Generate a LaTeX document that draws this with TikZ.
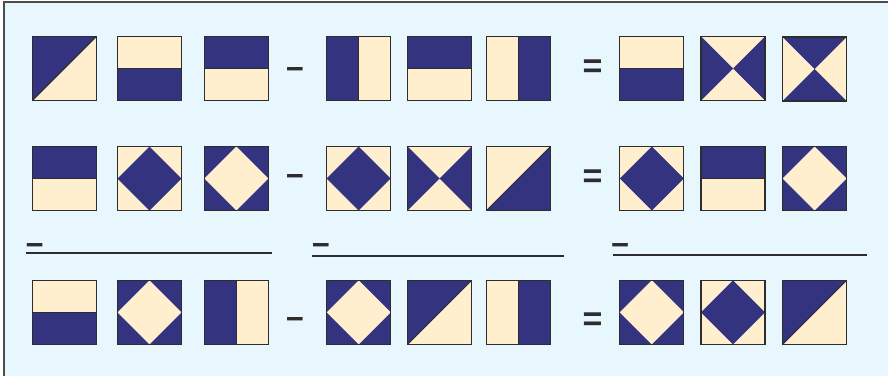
\documentclass[tikz,border=0pt]{standalone}
\usepackage{fontspec}
\setmainfont{Liberation Sans}
\begin{document}
\definecolor{navy}{RGB}{51,51,128}
\definecolor{cream}{RGB}{255,239,207}
\definecolor{bgblue}{RGB}{232,246,254}
\definecolor{edge}{RGB}{45,45,45}
\begin{tikzpicture}[x=1pt,y=-1pt,
  tile/.style={minimum size=64pt, inner sep=0pt, outer sep=0pt, draw=edge, line width=1.3pt, fill=cream},
  splitline/.style={draw=edge, line width=0.8pt},
  hTop/.style={tile, path picture={
     \fill[navy] (path picture bounding box.north west) rectangle (path picture bounding box.east);
     \draw[splitline] (path picture bounding box.west) -- (path picture bounding box.east);}},
  hBot/.style={tile, path picture={
     \fill[navy] (path picture bounding box.west) rectangle (path picture bounding box.south east);
     \draw[splitline] (path picture bounding box.west) -- (path picture bounding box.east);}},
  vLeft/.style={tile, path picture={
     \fill[navy] (path picture bounding box.north west) rectangle (path picture bounding box.south);
     \draw[splitline] (path picture bounding box.north) -- (path picture bounding box.south);}},
  vRight/.style={tile, path picture={
     \fill[navy] (path picture bounding box.north) rectangle (path picture bounding box.south east);
     \draw[splitline] (path picture bounding box.north) -- (path picture bounding box.south);}},
  diagTL/.style={tile, path picture={
     \fill[navy] (path picture bounding box.north west) -- (path picture bounding box.north east) -- (path picture bounding box.south west) -- cycle;
     \draw[splitline] (path picture bounding box.south west) -- (path picture bounding box.north east);}},
  diagBR/.style={tile, path picture={
     \fill[navy] (path picture bounding box.north east) -- (path picture bounding box.south east) -- (path picture bounding box.south west) -- cycle;
     \draw[splitline] (path picture bounding box.south west) -- (path picture bounding box.north east);}},
  xLR/.style={tile, path picture={
     \fill[navy] (path picture bounding box.north west) -- (path picture bounding box.center) -- (path picture bounding box.south west) -- cycle
                 (path picture bounding box.north east) -- (path picture bounding box.center) -- (path picture bounding box.south east) -- cycle;}},
  xTB/.style={tile, path picture={
     \fill[navy] (path picture bounding box.north west) -- (path picture bounding box.center) -- (path picture bounding box.north east) -- cycle
                 (path picture bounding box.south west) -- (path picture bounding box.center) -- (path picture bounding box.south east) -- cycle;}},
  dNavy/.style={tile, path picture={
     \fill[navy] (path picture bounding box.north) -- (path picture bounding box.east) -- (path picture bounding box.south) -- (path picture bounding box.west) -- cycle;}},
  dCream/.style={tile, fill=navy, path picture={
     \fill[cream] (path picture bounding box.north) -- (path picture bounding box.east) -- (path picture bounding box.south) -- (path picture bounding box.west) -- cycle;}},
  minussign/.style={anchor=base, inner sep=0pt, text=edge, font=\bfseries\fontsize{31}{31}\selectfont},
  equalsign/.style={anchor=base, inner sep=0pt, text=edge, font=\bfseries\fontsize{34}{34}\selectfont},
  rule/.style={draw=edge, line width=2pt}
]
\useasboundingbox (0,0) rectangle (888,376);
\fill[bgblue] (4,2) rectangle (888,376);
\draw[black!70, line width=1.2pt] (4,376) -- (4,2) -- (888,2);

% row 1
\node[diagTL] (t11) at (64.5,68.5) {};
\node[hBot]   (t12) at (149.5,68.5) {};
\node[hTop]   (t13) at (236.3,68.5) {};
\node[minussign] (m1) at (295,79.3) {−};
\node[vLeft]  (t14) at (358.7,68.5) {};
\node[hTop]   (t15) at (439.7,68.5) {};
\node[vRight] (t16) at (518.5,68.5) {};
\node[equalsign] (e1) at (592.5,77) {=};
\node[hBot]   (t17) at (651.8,68.5) {};
\node[xLR]    (t18) at (733,68.5) {};
\node[xTB]    (t19) at (814.7,69) {};

% row 2
\node[hTop]   (t21) at (64.5,178.5) {};
\node[dNavy]  (t22) at (149.5,178.5) {};
\node[dCream] (t23) at (236.3,178.5) {};
\node[minussign] (m2) at (295,186.3) {−};
\node[dNavy]  (t24) at (358.7,178.5) {};
\node[xLR]    (t25) at (439.7,178.5) {};
\node[diagBR] (t26) at (518.5,178.5) {};
\node[equalsign] (e2) at (592.5,187.5) {=};
\node[dNavy]  (t27) at (651.8,178.5) {};
\node[hTop]   (t28) at (733,178.5) {};
\node[dCream] (t29) at (814.7,178.5) {};

% rules
\node[minussign] (r1m) at (34.7,255.3) {−};
\node[minussign] (r2m) at (320.8,255.3) {−};
\node[minussign] (r3m) at (620.2,255.3) {−};
\coordinate (r1a) at (25.7,253);
\coordinate (r1b) at (271.7,253);
\coordinate (r2a) at (312,256);
\coordinate (r2b) at (564,256);
\coordinate (r3a) at (613.3,255);
\coordinate (r3b) at (867.3,255);
\draw[rule] (r1a) -- (r1b);
\draw[rule] (r2a) -- (r2b);
\draw[rule] (r3a) -- (r3b);

% row 3
\node[hBot]   (t31) at (64.5,312.3) {};
\node[dCream] (t32) at (149.5,312.3) {};
\node[vLeft]  (t33) at (236.3,312.3) {};
\node[minussign] (m3) at (295,329.6) {−};
\node[dCream] (t34) at (358.7,312.3) {};
\node[diagTL] (t35) at (439.7,312.3) {};
\node[vRight] (t36) at (518.5,312.3) {};
\node[equalsign] (e3) at (592.5,330.5) {=};
\node[dCream] (t37) at (651.8,312.3) {};
\node[dNavy]  (t38) at (733,312.3) {};
\node[diagTL] (t39) at (814.7,312.3) {};
\end{tikzpicture}
\end{document}
